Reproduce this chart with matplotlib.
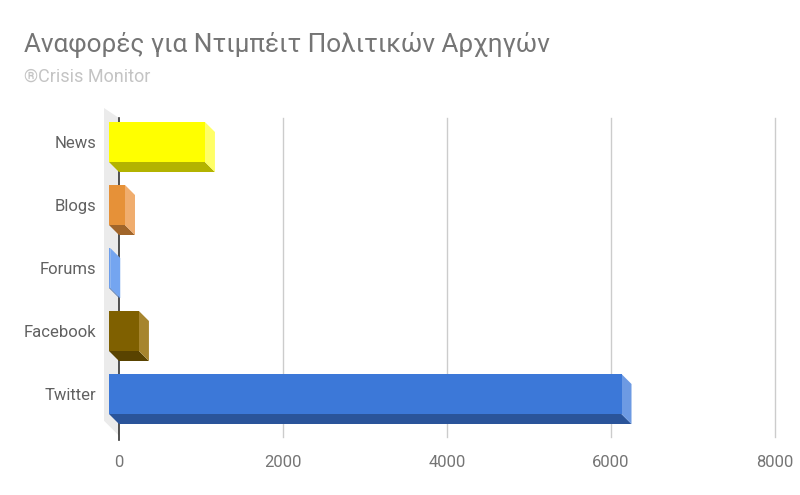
import matplotlib.pyplot as plt
from matplotlib.patches import Polygon

# data
categories = ['News', 'Blogs', 'Forums', 'Facebook', 'Twitter']
values = [1170, 195, 15, 365, 6250]
front_colors = ['#ffff00', '#e69138', '#6d9eeb', '#7f6000', '#3c78d8']
side_colors = ['#ffff66', '#f0ad6e', '#74a5f0', '#a6852e', '#6d9ae3']
bottom_colors = ['#b3b300', '#a1652a', '#4c6fa5', '#594300', '#2a549a']
x_ticks = [0, 2000, 4000, 6000, 8000]

TITLE = 'Αναφορές για Ντιμπέιτ Πολιτικών Αρχηγών'
SUBTITLE = '®Crisis Monitor'

plt.rcParams['font.family'] = ['Roboto', 'DejaVu Sans']

W, H = 800, 495
fig = plt.figure(figsize=(W / 100, H / 100), dpi=100)

left, right, top, bottom = 119, 775, 118, 437
ax = fig.add_axes([left / W, (H - bottom) / H, (right - left) / W, (bottom - top) / H])

row = 63.0          # px between rows
first = 152.0       # px, back-plane centre of first row
bar_h = 40 / row    # bar thickness in row units
depth = 10          # px of 3d depth
xmax = 8000
ax.set_xlim(0, xmax)
ax.set_ylim((bottom - first) / row, (top - first) / row)

px = xmax / (right - left)   # value units per pixel
dx = depth * px
dy = depth / row

for s in ax.spines.values():
    s.set_visible(False)
ax.set_yticks([])
ax.set_xticks(x_ticks)
ax.set_xticklabels([str(t) for t in x_ticks], color='#757575', fontsize=12)
ax.tick_params(axis='x', length=0, pad=13)

# gridlines
for t in x_ticks[1:]:
    ax.axvline(t, color='#cccccc', lw=1, zorder=1, clip_on=False)

# left wall
y0, y1 = ax.get_ylim()
wx = 15 * px
wall = Polygon([(-wx, y1 - dy), (0, y1), (0, y0 - 0.02), (-wx, y0 - dy - 0.1)],
               closed=True, facecolor='#ebebeb', edgecolor='none',
               clip_on=False, zorder=1)
ax.add_patch(wall)
ax.plot([0, 0], [y0 + 0.05, y1], color='#333333', lw=1.2, zorder=2, clip_on=False)

for i, (cat, v) in enumerate(zip(categories, values)):
    t, b = i - bar_h / 2, i + bar_h / 2
    bottom_face = [(-dx, b - dy), (v - dx, b - dy), (v, b), (0, b)]
    side_face = [(v - dx, t - dy), (v, t), (v, b), (v - dx, b - dy)]
    front_face = [(-dx, t - dy), (v - dx, t - dy), (v - dx, b - dy), (-dx, b - dy)]
    ax.add_patch(Polygon(bottom_face, closed=True, facecolor=bottom_colors[i],
                         edgecolor='none', clip_on=False, zorder=3))
    ax.add_patch(Polygon(side_face, closed=True, facecolor=side_colors[i],
                         edgecolor='none', clip_on=False, zorder=3))
    ax.add_patch(Polygon(front_face, closed=True, facecolor=front_colors[i],
                         edgecolor='none', clip_on=False, zorder=4))
    ax.text(-dx - 13 * px, i - dy + 0.03, cat, ha='right', va='center',
            color='#616161', fontsize=12)

fig.text(24 / W, 1 - 45 / H, TITLE, fontsize=18.8, color='#757575',
         ha='left', va='center')
fig.text(24 / W, 1 - 77 / H, SUBTITLE, fontsize=13, color='#c4c4c4',
         ha='left', va='center')

fig.savefig('out.png', dpi=100, facecolor='white')
